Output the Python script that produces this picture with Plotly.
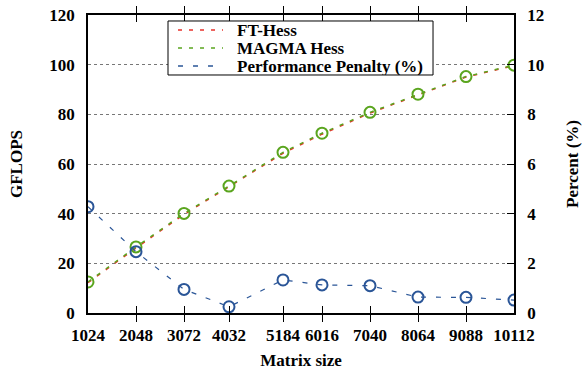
import plotly.graph_objects as go

sizes = [1024, 2048, 3072, 4032, 5184, 6016, 7040, 8064, 9088, 10112]
ft_hess = [12.2, 26.2, 39.7, 50.8, 64.3, 72.0, 80.5, 87.8, 95.0, 99.6]
magma_hess = [12.5, 26.6, 40.1, 51.1, 64.7, 72.4, 80.8, 88.1, 95.2, 99.8]
penalty = [4.28, 2.47, 0.95, 0.25, 1.33, 1.13, 1.10, 0.64, 0.63, 0.52]
series_names = ["FT-Hess", "MAGMA Hess", "Performance Penalty (%)"]

FONT = "Liberation Serif, Times New Roman, Times, serif"
FS = 17
font = dict(family=FONT, size=FS, color="black")
RED = "#e8312a"
GREEN = "#5aa51e"
BLUE = "#2a5597"
DASH_GF = "4px,7px"
DASH_PC = "5px,10px"

fig = go.Figure()
fig.add_trace(go.Scatter(x=sizes, y=ft_hess, mode="lines", name=series_names[0], showlegend=False,
                         line=dict(color=RED, width=1.5, dash=DASH_GF)))
fig.add_trace(go.Scatter(x=sizes, y=magma_hess, mode="lines", name=series_names[1], showlegend=False,
                         line=dict(color=GREEN, width=1.5, dash=DASH_GF)))
fig.add_trace(go.Scatter(x=sizes, y=magma_hess, mode="markers", showlegend=False,
                         marker=dict(symbol="circle-open", size=11, color=GREEN, line=dict(width=2, color=GREEN))))
fig.add_trace(go.Scatter(x=sizes, y=penalty, mode="lines", name=series_names[2], showlegend=False,
                         yaxis="y2", line=dict(color=BLUE, width=1.2, dash=DASH_PC)))
fig.add_trace(go.Scatter(x=sizes, y=penalty, mode="markers", showlegend=False, yaxis="y2",
                         marker=dict(symbol="circle-open", size=11, color=BLUE, line=dict(width=2, color=BLUE))))

# legend box drawn in plot-area (paper) coordinates
fig.add_shape(type="rect", xref="paper", yref="paper", x0=0.1878, x1=0.8099, y0=0.7987, y1=0.9799,
              line=dict(color="black", width=1), fillcolor="white", layer="above")
legend_y = [0.9497, 0.8893, 0.8289]
legend_col = [RED, GREEN, BLUE]
legend_dash = [DASH_GF, DASH_GF, DASH_PC]
for nm, yy, cc, dd in zip(series_names, legend_y, legend_col, legend_dash):
    fig.add_shape(type="line", xref="paper", yref="paper", x0=0.2113, x1=0.3169, y0=yy, y1=yy,
                  line=dict(color=cc, width=1.5, dash=dd), layer="above")
    fig.add_annotation(xref="paper", yref="paper", x=0.3474, y=yy, xanchor="left", yanchor="middle",
                       height=18, borderpad=0, text=f"<b>{nm}</b>", showarrow=False,
                       font=dict(family=FONT, size=17, color="black"))

fig.update_layout(
    width=582, height=370,
    margin=dict(l=88, r=68, t=15, b=57, autoexpand=False),
    paper_bgcolor="white", plot_bgcolor="white",
    font=font,
    showlegend=False,
    xaxis=dict(range=[1024, 10112], tickvals=sizes, ticktext=[f"<b>{s}</b>" for s in sizes],
               showgrid=False, zeroline=False, showline=True, linecolor="black", linewidth=1.5,
               mirror="allticks", ticks="inside", ticklen=7, tickcolor="black", automargin=False,
               ticklabelstandoff=6,
               title=dict(text="<b>Matrix size</b>", font=dict(size=FS), standoff=10)),
    yaxis=dict(range=[0, 120], tickvals=[0, 20, 40, 60, 80, 100, 120],
               ticktext=[f"<b>{v}</b>" for v in [0, 20, 40, 60, 80, 100, 120]],
               showgrid=True, gridcolor="#777777", griddash="dot", gridwidth=1,
               zeroline=False, showline=True, linecolor="black", linewidth=1.5, automargin=False,
               ticks="", ticklabelstandoff=8,
               title=dict(text="<b>GFLOPS</b>", font=dict(size=FS), standoff=22)),
    yaxis2=dict(range=[0, 12], overlaying="y", side="right",
                tickvals=[0, 2, 4, 6, 8, 10, 12], ticktext=[f"<b>{v}</b>" for v in [0, 2, 4, 6, 8, 10, 12]],
                showgrid=False, zeroline=False, showline=True, linecolor="black", linewidth=1.5,
                ticks="inside", ticklen=7, tickcolor="black", automargin=False, ticklabelstandoff=8,
                title=dict(text="<b>Percent (%)</b>", font=dict(size=FS), standoff=28)),
)

fig.write_html("out.html", config={"displayModeBar": False},
               post_script="document.body.style.margin='0';")
